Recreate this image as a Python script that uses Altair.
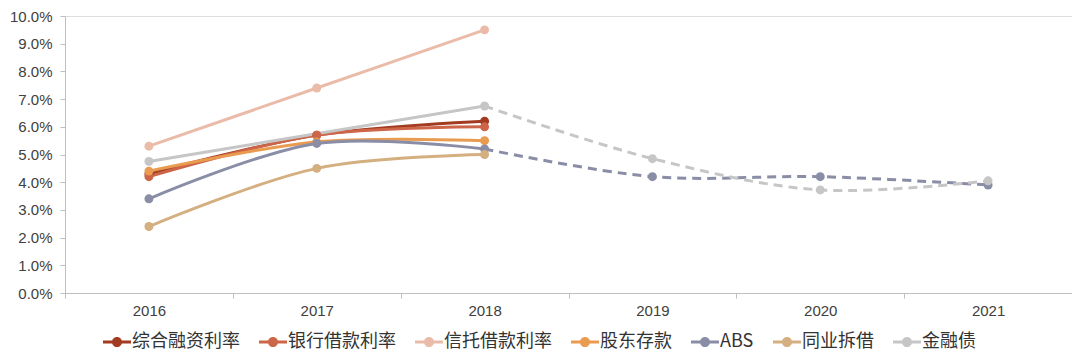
import altair as alt
import pandas as pd

years = ["2016", "2017", "2018", "2019", "2020", "2021"]
series = ["综合融资利率", "银行借款利率", "信托借款利率", "股东存款", "ABS", "同业拆借", "金融债"]
colors = ["#A33B20", "#CD6549", "#EBBBAA", "#E99B50", "#8A8DA6", "#D4AF80", "#C6C6C6"]

# values in percent
zhrz = [4.30, 5.70, 6.20, None, None, None]   # 综合融资利率
yhjk = [4.20, 5.70, 6.00, None, None, None]   # 银行借款利率
xtjk = [5.30, 7.40, 9.50, None, None, None]   # 信托借款利率
gdck = [4.40, 5.45, 5.50, None, None, None]   # 股东存款
abs_ = [3.40, 5.40, 5.20, 4.20, 4.20, 3.90]   # ABS
tycj = [2.40, 4.50, 5.00, None, None, None]   # 同业拆借
jrz = [4.75, None, 6.75, 4.85, 3.72, 4.05]    # 金融债

values = [zhrz, yhjk, xtjk, gdck, abs_, tycj, jrz]
split_year = "2018"

rows = []
for name, vals in zip(series, values):
    for y, v in zip(years, vals):
        if v is not None:
            rows.append({"series": name, "year": y, "value": v / 100.0})
df = pd.DataFrame(rows)

solid = df[df["year"] <= split_year]
has_future = df[df["year"] > split_year]["series"].unique()
dashed = df[(df["year"] >= split_year) & (df["series"].isin(has_future))]

font = "Liberation Sans"
axis_gray = "#BFBFBF"
label_color = "#404040"

x = alt.X(
    "year:N",
    scale=alt.Scale(type="band", domain=years, paddingInner=0, paddingOuter=0),
    axis=alt.Axis(
        title=None, labelAngle=0, tickBand="extent", domainColor=axis_gray,
        tickColor=axis_gray, tickSize=5, labelPadding=5, labelFont=font,
        labelFontSize=15, labelColor=label_color, grid=False,
    ),
)
y = alt.Y(
    "value:Q",
    scale=alt.Scale(domain=[0, 0.1], nice=False, zero=True),
    axis=alt.Axis(
        title=None, values=[i / 100 for i in range(11)], format=".1%",
        domainColor=axis_gray, tickColor=axis_gray, tickSize=5, labelPadding=8,
        labelFont=font, labelFontSize=15, labelColor=label_color, grid=False,
    ),
)

# separate (non-merged) scale for the line strokes; legend comes from the points
line_scale = alt.Scale(domain=series + ["_"], range=colors + ["#000000"])

solid_lines = alt.Chart(solid).mark_line(
    strokeWidth=3, interpolate="catmull-rom"
).encode(
    x=x, y=y,
    stroke=alt.Stroke("series:N", scale=line_scale, legend=None),
    order=alt.Order("year:N"),
)

dashed_lines = alt.Chart(dashed).mark_line(
    strokeWidth=3, interpolate="catmull-rom", strokeDash=[9, 6]
).encode(
    x=x, y=y,
    stroke=alt.Stroke("series:N", scale=line_scale, legend=None),
    order=alt.Order("year:N"),
)

sym_path = (
    "M-1,-0.11L1,-0.11L1,0.11L-1,0.11Z "
    "M-0.36,0A0.36,0.36,0,1,1,0.36,0A0.36,0.36,0,1,1,-0.36,0Z"
)

points = alt.Chart(df).mark_circle(size=80, opacity=1).encode(
    x=x, y=y,
    color=alt.Color(
        "series:N", scale=alt.Scale(domain=series, range=colors),
        legend=alt.Legend(
            title=None, orient="none", direction="horizontal",
            legendX=38, legendY=312, padding=0, symbolType=sym_path,
            symbolSize=784, symbolStrokeWidth=0, symbolOpacity=1,
            labelFont="Noto Sans CJK SC", labelFontSize=18, labelColor="#333333",
            labelOffset=1, columnPadding=19, labelLimit=300,
        ),
    ),
)

chart = alt.layer(solid_lines, dashed_lines, points).properties(
    width=1007, height=277,
    autosize=alt.AutoSizeParams(type="none"),
    padding={"left": 57, "top": 8, "right": 0, "bottom": 64},
).configure_view(stroke=None).configure(background="white")

chart.save("out.html", embed_options={"renderer": "svg", "actions": False})
